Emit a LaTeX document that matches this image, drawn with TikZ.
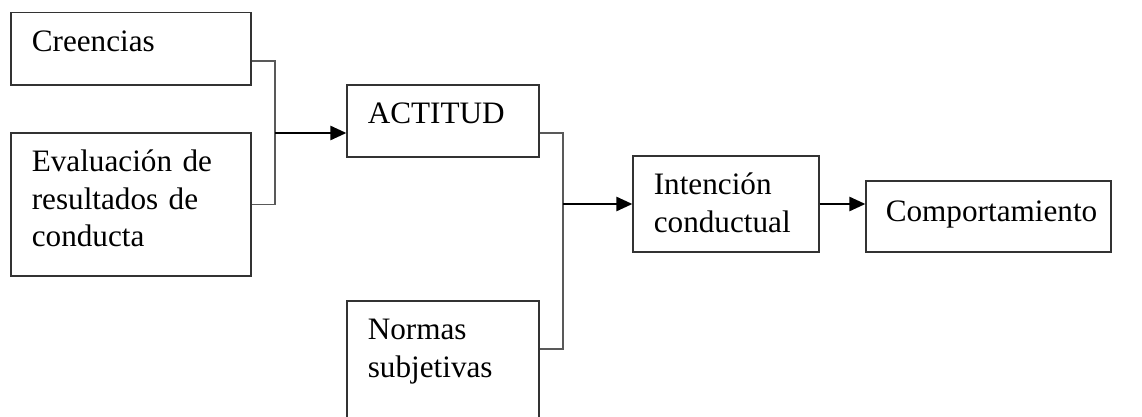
\documentclass[tikz,border=0pt]{standalone}
\usepackage{fontspec}
\setmainfont{Liberation Serif}
\usetikzlibrary{arrows.meta,positioning}

\begin{document}
\begin{tikzpicture}[
  x=0.5pt, y=-0.5pt,
  caja/.style={draw=black!80, line width=0.6pt, rectangle, inner sep=0pt},
  texto/.style={anchor=base west, inner sep=0pt, text width=110pt, align=left,
    font=\fontsize{15.6}{18.75}\selectfont},
  union/.style={draw=black!65, line width=0.7pt},
  flecha/.style={line width=1.25pt, -{Triangle[length=8pt,width=7pt]}}
]
\useasboundingbox (0,0) rectangle (1142,417);
\clip (0,0) rectangle (1142,417);
% cajas
\node[caja, minimum width=120pt, minimum height=36.25pt] (cre) at (131,48.75) {};
\node[caja, minimum width=120pt, minimum height=71.5pt] (eva) at (131,204.5) {};
\node[caja, minimum width=96pt, minimum height=36pt] (act) at (443,121) {};
\node[caja, minimum width=96pt, minimum height=74.5pt] (nor) at (443,375.5) {};
\node[caja, minimum width=93pt, minimum height=48pt] (int) at (726,204) {};
\node[caja, minimum width=122.5pt, minimum height=35.5pt] (com) at (988.5,216.5) {};
% textos
\node[texto] (creT) at ([shift={(21,39.5)}]cre.north west) {Creencias};
\node[texto] (evaT) at ([shift={(21,39.5)}]eva.north west) {Evaluación de\\resultados de\\conducta};
\node[texto] (actT) at ([shift={(21,39.5)}]act.north west) {ACTITUD};
\node[texto] (norT) at ([shift={(21,39.5)}]nor.north west) {Normas\\subjetivas};
\node[texto] (intT) at ([shift={(21,39.5)}]int.north west) {Intención\\conductual};
\node[texto] (comT) at ([shift={(20,41)}]com.north west) {Comportamiento};
% uniones
\coordinate (a1) at (275,61);
\coordinate (j1) at (275,133);
\coordinate (a2) at (563,133);
\coordinate (b2) at (563,349);
\draw[union] (cre.east |- a1) -- (a1) |- (eva.east);
\draw[union] (act.east |- a2) -- (a2) -- (b2) -- (b2 -| nor.east);
\path (j1) edge[flecha] (j1 -| act.west)
  (a2 |- int.west) edge[flecha] (int.west)
  (int.east) edge[flecha] (int.east -| com.west)
;
\end{tikzpicture}
\end{document}
